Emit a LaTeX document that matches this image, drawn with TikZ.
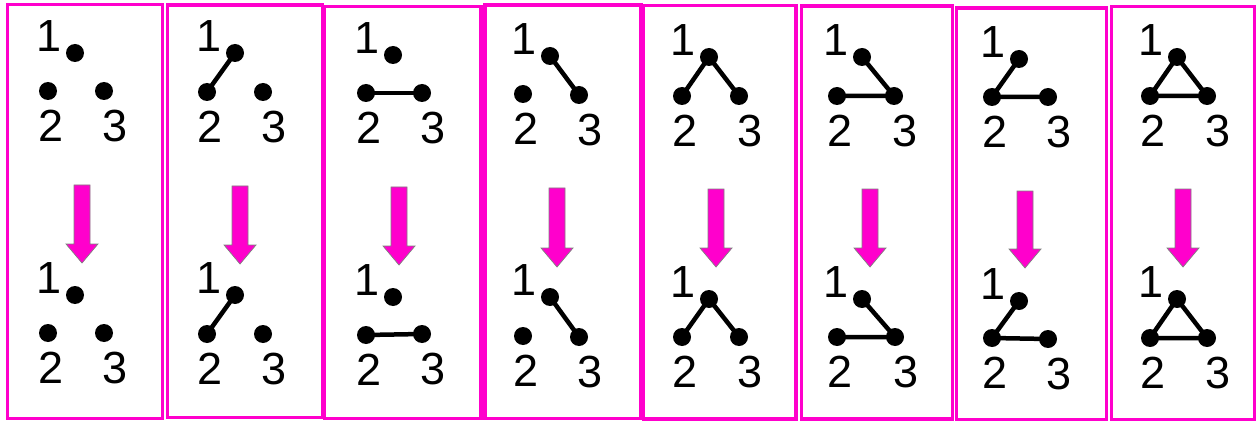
\documentclass[tikz,border=0pt]{standalone}
\usepackage{fontspec}
\setmainfont{Liberation Sans}
\definecolor{mag}{HTML}{FF00CC}
\newcommand{\graphnodes}[7]{%
  \node[dot] (#1n1) at (#2,#3) {};
  \node[dot] (#1n2) at (#4,#5) {};
  \node[dot] (#1n3) at (#6,#7) {};
  \node[lbl] (#1l1) at ([xshift=-26pt,yshift=17pt]#1n1.center) {1};
  \node[lbl] (#1l2) at ([xshift=3pt,yshift=-35pt]#1n2.center) {2};
  \node[lbl] (#1l3) at ([xshift=11pt,yshift=-35pt]#1n3.center) {3};
}
\newcommand{\dnarrow}[3]{%
  \draw[downarrow] (#1-8,#2) -- (#1+8,#2) -- (#1+8,#3-19) -- (#1+16,#3-19) -- (#1,#3) -- (#1-16,#3-19) -- (#1-8,#3-19) -- cycle;
}
\begin{document}
\begin{tikzpicture}[x=1pt,y=-1pt,
  dot/.style={circle,fill=black,inner sep=0pt,minimum size=18pt},
  lbl/.style={inner sep=0pt,font=\fontsize{45}{50}\selectfont},
  edge/.style={line width=4.5pt},
  frame/.style={draw=mag,line width=3.8pt},
  downarrow/.style={fill=mag,draw=gray,line width=0.7pt}]
\useasboundingbox (0,0) rectangle (1257,422);
\fill[white] (0,0) rectangle (1257,422);

% frames
\draw[frame] (7.5,4.5) rectangle (162.5,418.5);
\draw[frame] (167.5,5) rectangle (322.5,417.5);
\draw[frame] (324.5,6.5) rectangle (481,418.5);
\draw[frame] (485,5) rectangle (641,418.5);
\draw[frame] (643.5,5.5) rectangle (796,419);
\draw[frame] (801.5,6) rectangle (952.5,419);
\draw[frame] (956.5,8) rectangle (1106.5,419.5);
\draw[frame] (1111.5,6.5) rectangle (1254.5,419.5);

% arrows
\dnarrow{82}{185}{263}
\dnarrow{240}{186}{264}
\dnarrow{399}{187}{265}
\dnarrow{557}{188}{267}
\dnarrow{716}{189}{267}
\dnarrow{870}{189}{267}
\dnarrow{1025}{191}{268}
\dnarrow{1183}{189}{267}

% panel 1
\graphnodes{p1a}{75}{53}{48}{91}{104}{91}
\graphnodes{p1b}{75}{295}{48}{333}{104}{333}
% panel 2
\graphnodes{p2a}{235}{53}{207}{92}{263}{92}
\graphnodes{p2b}{235}{295}{207}{334}{263}{334}
\draw[edge] (p2an1.center) -- (p2an2.center);
\draw[edge] (p2bn1.center) -- (p2bn2.center);
% panel 3
\graphnodes{p3a}{393}{55}{366}{93}{422}{93}
\graphnodes{p3b}{393}{297}{366}{335}{422}{334}
\draw[edge] (p3an2.center) -- (p3an3.center);
\draw[edge] (p3bn2.center) -- (p3bn3.center);
% panel 4
\graphnodes{p4a}{550}{56}{523}{94}{579}{95}
\graphnodes{p4b}{550}{297}{523}{336}{579}{337}
\draw[edge] (p4an1.center) -- (p4an3.center);
\draw[edge] (p4bn1.center) -- (p4bn3.center);
% panel 5
\graphnodes{p5a}{709}{57}{682}{96}{739}{96}
\graphnodes{p5b}{709}{299}{682}{337}{739}{337}
\draw[edge] (p5an2.center) -- (p5an1.center) -- (p5an3.center);
\draw[edge] (p5bn2.center) -- (p5bn1.center) -- (p5bn3.center);
% panel 6
\graphnodes{p6a}{862}{57}{837}{96}{894}{96}
\graphnodes{p6b}{862}{299}{837}{337}{895}{337}
\draw[edge] (p6an1.center) -- (p6an3.center) -- (p6an2.center);
\draw[edge] (p6bn1.center) -- (p6bn3.center) -- (p6bn2.center);
% panel 7
\graphnodes{p7a}{1019}{59}{992}{97}{1048}{97}
\graphnodes{p7b}{1019}{301}{992}{338}{1048}{339}
\draw[edge] (p7an1.center) -- (p7an2.center) -- (p7an3.center);
\draw[edge] (p7bn1.center) -- (p7bn2.center) -- (p7bn3.center);
% panel 8
\graphnodes{p8a}{1177}{57}{1150}{96}{1207}{96}
\graphnodes{p8b}{1177}{299}{1150}{338}{1207}{338}
\draw[edge,line join=round] (p8an1.center) -- (p8an2.center) -- (p8an3.center) -- cycle;
\draw[edge,line join=round] (p8bn1.center) -- (p8bn2.center) -- (p8bn3.center) -- cycle;
\end{tikzpicture}
\end{document}
